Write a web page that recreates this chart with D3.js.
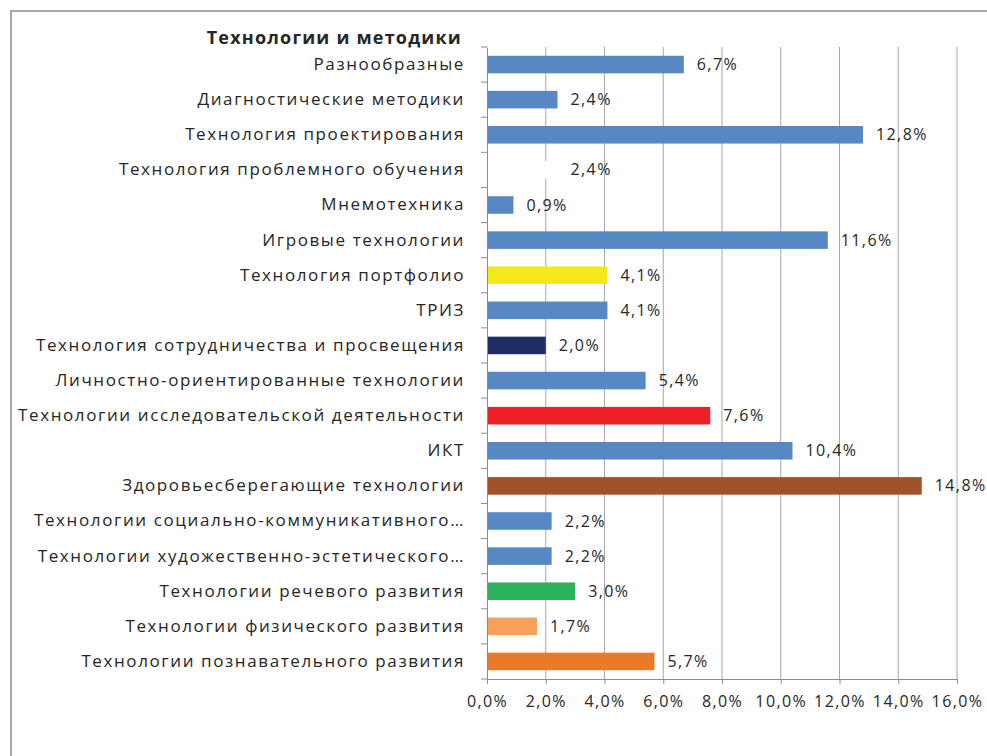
<!DOCTYPE html>
<html>
<head>
<meta charset="utf-8">
<script src="https://cdn.jsdelivr.net/npm/d3@7"></script>
<style>
  body { margin: 0; background: #fff; }
  text { font-family: "Open Sans", "DejaVu Sans", sans-serif; fill: #262626; }
</style>
</head>
<body>
<script>
// data (top to bottom)
var categories = [
  "Разнообразные",
  "Диагностические методики",
  "Технология проектирования",
  "Технология проблемного обучения",
  "Мнемотехника",
  "Игровые технологии",
  "Технология портфолио",
  "ТРИЗ",
  "Технология сотрудничества и просвещения",
  "Личностно-ориентированные технологии",
  "Технологии исследовательской деятельности",
  "ИКТ",
  "Здоровьесберегающие технологии",
  "Технологии социально-коммуникативного…",
  "Технологии художественно-эстетического…",
  "Технологии речевого развития",
  "Технологии физического развития",
  "Технологии познавательного развития"
];
var values = [6.7, 2.4, 12.8, 2.4, 0.9, 11.6, 4.1, 4.1, 2.0, 5.4, 7.6, 10.4, 14.8, 2.2, 2.2, 3.0, 1.7, 5.7];
var barColors = ["#5888c4", "#5888c4", "#5888c4", "#ffffff", "#5888c4", "#5888c4", "#f2e81a",
  "#5888c4", "#1f2d63", "#5888c4", "#ee1f26", "#5888c4", "#a0532a", "#5888c4", "#5888c4",
  "#2bb35c", "#f8a05a", "#e87b2a"];
var xTicks = [0, 2, 4, 6, 8, 10, 12, 14, 16];
var title = "Технологии и методики";

var width = 987, height = 756;
var margin = { left: 487, right: 30, top: 47, bottom: 77 };

var svg = d3.select("body").append("svg")
    .attr("width", width)
    .attr("height", height);

// outer frame
svg.append("rect")
    .attr("x", 11).attr("y", 11)
    .attr("width", 1000).attr("height", 800)
    .style("fill", "none")
    .style("stroke", "#8c8c8c")
    .style("stroke-width", 1.5);

var xScale = d3.scaleLinear()
    .domain([0, 16])
    .range([margin.left, 957]);

var yScale = d3.scaleBand()
    .domain(categories)
    .range([margin.top, height - margin.bottom])
    .paddingInner(0.5)
    .paddingOuter(0.25);

var fmt = function(v) { return v.toFixed(1).replace(".", ",") + "%"; };

// gridlines
svg.append("g").selectAll("line")
    .data(xTicks.slice(1))
    .enter().append("line")
    .attr("x1", function(d) { return xScale(d); })
    .attr("x2", function(d) { return xScale(d); })
    .attr("y1", margin.top)
    .attr("y2", height - margin.bottom)
    .style("stroke", "#a6a6a6")
    .style("stroke-width", 1);

// bars
svg.append("g").selectAll("rect")
    .data(values)
    .enter().append("rect")
    .attr("x", xScale(0))
    .attr("y", function(d, i) { return yScale(categories[i]); })
    .attr("width", function(d) { return xScale(d) - xScale(0); })
    .attr("height", yScale.bandwidth())
    .style("fill", function(d, i) { return barColors[i]; });

// value labels
svg.append("g").selectAll("text")
    .data(values)
    .enter().append("text")
    .attr("x", function(d) { return xScale(d) + 13; })
    .attr("y", function(d, i) { return yScale(categories[i]) + yScale.bandwidth() / 2; })
    .attr("dy", "0.35em")
    .style("font-size", "16px")
    .style("letter-spacing", "1.4px")
    .text(fmt);

// x axis
var xAxis = svg.append("g")
    .attr("transform", "translate(0," + (height - margin.bottom) + ")")
    .call(d3.axisBottom(xScale).tickValues(xTicks).tickFormat(fmt).tickSize(5).tickPadding(12));
xAxis.selectAll("line, path").style("stroke", "#8c8c8c");
xAxis.selectAll("text").style("font-size", "16px").style("letter-spacing", "1.4px").style("font-family", null);

// y axis
var yAxis = svg.append("g")
    .attr("transform", "translate(" + margin.left + ",0)")
    .call(d3.axisLeft(yScale).tickSize(0).tickPadding(22));
yAxis.select("path").style("stroke", "#8c8c8c");
yAxis.selectAll("text").style("font-size", "17px").style("letter-spacing", "1.6px").style("font-family", null);

// category separator ticks
var step = yScale.step();
svg.append("g").selectAll("line")
    .data(d3.range(categories.length + 1))
    .enter().append("line")
    .attr("x1", margin.left - 6)
    .attr("x2", margin.left)
    .attr("y1", function(i) { return margin.top + i * step; })
    .attr("y2", function(i) { return margin.top + i * step; })
    .style("stroke", "#8c8c8c");

// title
svg.append("text")
    .attr("x", 462)
    .attr("y", 38)
    .attr("dy", "0.35em")
    .attr("text-anchor", "end")
    .style("font-size", "18px")
    .style("font-weight", "bold")
    .style("letter-spacing", "1.2px")
    .text(title);
</script>
</body>
</html>
